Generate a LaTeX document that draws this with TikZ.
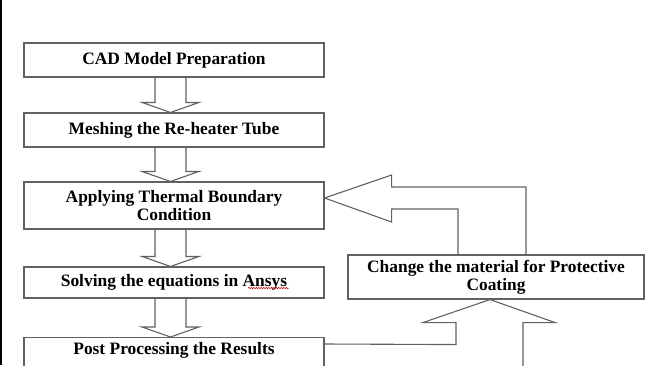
\documentclass[tikz,border=0pt]{standalone}
\usepackage{fontspec}
\setmainfont{Liberation Serif}
\usetikzlibrary{calc,decorations.pathmorphing}

\definecolor{linegray}{gray}{0.38}

\tikzset{
  stage/.style={draw=linegray, line width=1.1pt, minimum width=300, align=center,
    inner sep=0, font=\fontsize{17.4}{18}\selectfont\bfseries},
  flow/.style={draw=linegray, line width=1.1pt, line join=miter}
}

% hollow block arrow pointing down, from one stage to the next
\newcommand{\blockdown}[2]{%
  \draw[flow] ($(#1.south)+(-19,0)$) -- ($(#2.north)+(-19,-10)$) -- ($(#2.north)+(-32,-10)$)
    -- ($(#2.north)+(-3.5,0)$) -- ($(#2.north)+(25,-10)$) -- ($(#2.north)+(12,-10)$)
    -- ($(#1.south)+(12,0)$);}

\begin{document}
\begin{tikzpicture}[x=1pt, y=-1pt]
    \useasboundingbox (0,0) rectangle (645,365);
    \clip (0,0) rectangle (645,365);
    \fill[white] (0,0) rectangle (645,365);
    \fill[black] (0,0) rectangle (1.5,365);

    % Main flow
    \node[stage, minimum height=34] (cad) at (174,60) {CAD Model Preparation};
    \node[stage, minimum height=34] (mesh) at (174,130) {Meshing the Re-heater Tube};
    \node[stage, minimum height=47] (thermal) at (174,205.5) {Applying Thermal Boundary\\Condition};
    \node[stage, minimum height=31] (solve) at (174,282.5) {Solving the equations in Ansys};
    \node[stage, anchor=north, text height=16.5pt, text depth=22pt] (post) at (174,337) {Post Processing the Results};

    % Feedback box
    \node[stage, minimum width=296, minimum height=44] (change) at (496,277) {Change the material for Protective\\Coating};

    % spell-check mark under Ansys
    \draw[red!80!black, line width=0.5pt, decorate, decoration={snake, amplitude=0.7pt, segment length=2.5pt}]
      ($(solve.center)+(74,5.5)$) -- ($(solve.center)+(115,5.5)$);

    % Down arrows
    \blockdown{cad}{mesh}
    \blockdown{mesh}{thermal}
    \blockdown{thermal}{solve}
    \blockdown{solve}{post}

    % Results up into the change box
    \draw[flow] ($(post.north east)+(0,7)$) -- ($(change.south)+(-40,45)$) -- ($(change.south)+(-40,23)$)
      -- ($(change.south)+(-73,23)$) -- ($(change.south)+(-6,0)$) -- ($(change.south)+(59,23)$)
      -- ($(change.south)+(27,23)$) -- ($(change.south)+(27,80)$);

    % Change box back to the boundary condition
    \draw[flow] ($(change.north)+(-38,0)$) |- ($(thermal.east)+(67,3.5)$) -- ++(0,13)
      -- ($(thermal.east)+(0,-7.5)$) -- ($(thermal.east)+(67,-30.5)$) -- ++(0,12)
      -| ($(change.north)+(30,0)$);
\end{tikzpicture}
\end{document}
